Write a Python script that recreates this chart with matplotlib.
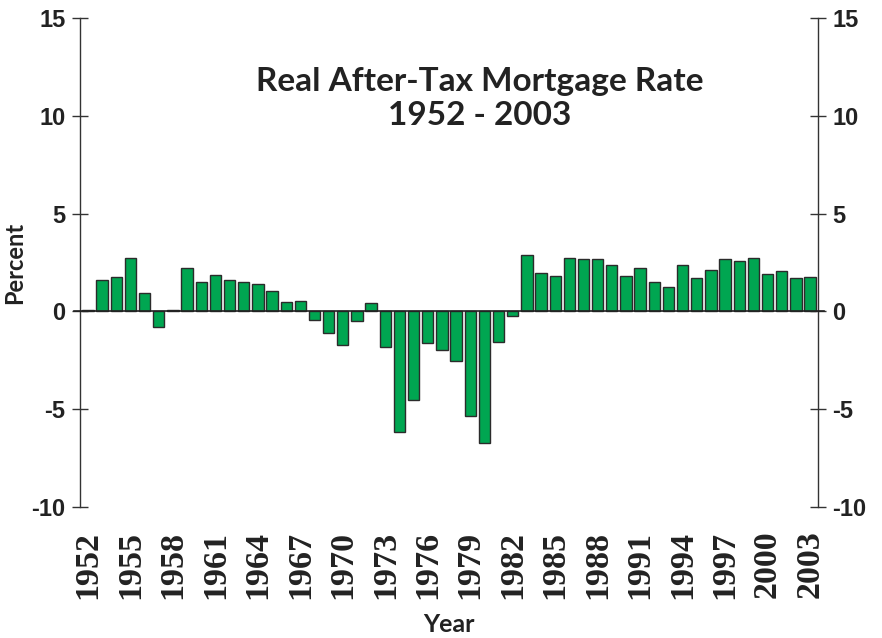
import matplotlib
matplotlib.use("Agg")
import matplotlib.pyplot as plt
import matplotlib.transforms as mtransforms

# Real after-tax mortgage rate (percent)
years = list(range(1952, 2004))
rates = [0.05, 1.62, 1.77, 2.72, 0.95, -0.82, 0.05, 2.21, 1.48, 1.84,
         1.63, 1.50, 1.41, 1.04, 0.50, 0.51, -0.42, -1.11, -1.72, -0.51,
         0.44, -1.84, -6.16, -4.51, -1.63, -1.99, -2.55, -5.36, -6.75, -1.56,
         -0.23, 2.87, 1.97, 1.80, 2.72, 2.67, 2.70, 2.38, 1.80, 2.21,
         1.51, 1.26, 2.38, 1.73, 2.13, 2.70, 2.57, 2.74, 1.89, 2.09,
         1.72, 1.75]
year_ticks = list(range(1952, 2004, 3))
y_ticks = [-10, -5, 0, 5, 10, 15]

fig = plt.figure(figsize=(8.82, 6.38), dpi=100)
ax = fig.add_axes([80 / 882, 1 - 507 / 638, 738 / 882, 489 / 638])

ax.bar(years, rates, width=0.8, color='#00a651', edgecolor='#2b2b2b', linewidth=1.0, zorder=3)

# zero line, sticking out a little past both spines
trans = mtransforms.blended_transform_factory(ax.transAxes, ax.transData)
ax.plot([-0.008, 1.008], [0, 0], transform=trans, color='#222222', linewidth=1.2,
        clip_on=False, zorder=4)

ax.set_xlim(1951.44, 2003.56)
ax.set_ylim(-10, 15)

for side in ['top', 'bottom']:
    ax.spines[side].set_visible(False)
for side in ['left', 'right']:
    ax.spines[side].set_color('#333333')
    ax.spines[side].set_linewidth(1.0)

ax.set_yticks(y_ticks)
ax.set_yticklabels([str(v) for v in y_ticks])
ax.tick_params(axis='y', direction='inout', length=11, width=1.0, color='#333333',
               left=True, right=True, labelleft=True, labelright=True, pad=5)
for t in ax.yaxis.get_major_ticks():
    for lab in (t.label1, t.label2):
        lab.set_fontfamily(['Liberation Sans Narrow', 'Liberation Sans'])
        lab.set_fontweight('bold')
        lab.set_fontsize(17)
        lab.set_color('#222222')

ax.set_xticks(year_ticks)
ax.set_xticklabels([str(y) for y in year_ticks], rotation=90,
                   fontfamily='Liberation Serif', fontweight='bold', fontsize=24.5,
                   color='#222222')
ax.tick_params(axis='x', length=0, pad=17)

ax.set_ylabel('Percent', fontfamily='Lato', fontweight='bold', fontsize=17,
              color='#222222', labelpad=4)
ax.set_xlabel('Year', fontfamily='Lato', fontweight='bold', fontsize=18,
              color='#222222', labelpad=10)

ax.text(0.542, 0.836, 'Real After-Tax Mortgage Rate\n1952 - 2003', transform=ax.transAxes,
        ha='center', va='center', fontfamily='Lato', fontweight='bold', fontsize=24,
        color='#222222', linespacing=1.2)

fig.savefig('out.png', dpi=100)
